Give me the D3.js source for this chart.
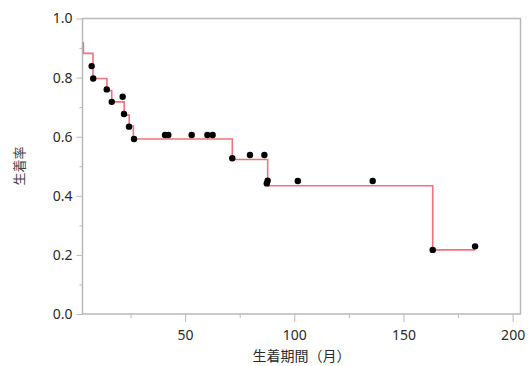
<!DOCTYPE html>
<html>
<head>
<meta charset="utf-8">
<script src="https://cdn.jsdelivr.net/npm/d3@7"></script>
<style>
  body { margin: 0; background: #fff; }
  svg { display: block; }
  .tick text { font-family: "Noto Sans", sans-serif; font-size: 14px; fill: #2a2a2a; }
  .axis path, .axis line { stroke: #b9b9b9; }
</style>
</head>
<body>
<svg id="km_svg" width="528" height="366"></svg>
<script>
// step curve (drop times and survival after drop)
const curveTimes = [0, 3.4, 7.8, 14.2, 16.4, 22.1, 24.4, 26.3, 71.6, 87.8, 163.4, 182.8];
const curveSurv  = [0.917, 0.882, 0.797, 0.756, 0.718, 0.673, 0.636, 0.592, 0.523, 0.434, 0.217, 0.217];

// plotted points
const pointTimes = [7.2, 7.9, 14.1, 16.4, 21.4, 22.0, 24.3, 26.6, 40.8, 42.3, 53.0, 60.2, 62.6,
                    71.6, 79.7, 86.3, 87.4, 87.8, 101.6, 135.9, 163.4, 182.8];
const pointSurv  = [0.839, 0.797, 0.760, 0.718, 0.735, 0.677, 0.634, 0.592, 0.606, 0.606, 0.606, 0.606, 0.606,
                    0.527, 0.538, 0.538, 0.442, 0.451, 0.450, 0.450, 0.217, 0.229];

const xMajor = [50, 100, 150, 200];
const xMinor = [25, 75, 125, 175];
const yMajor = [0, 0.2, 0.4, 0.6, 0.8, 1.0];
const yMinor = [0.1, 0.3, 0.5, 0.7, 0.9];

const svg = d3.select('#km_svg');
const plotL = 82.5, plotR = 520.5, plotT = 18.5, plotB = 314;

const xScale = d3.scaleLinear().domain([3, 203.6]).range([plotL, plotR]);
const yScale = d3.scaleLinear().domain([0, 1]).range([plotB, plotT]);

svg.append('clipPath').attr('id', 'plotclip')
    .append('rect')
    .attr('x', plotL).attr('y', plotT)
    .attr('width', plotR - plotL).attr('height', plotB - plotT);

// minor ticks
svg.append('g').attr('class', 'axis')
    .attr('transform', `translate(0,${plotB})`)
    .call(d3.axisBottom(xScale).tickValues(xMinor).tickSize(4).tickFormat(''))
    .call(g => g.select('.domain').remove());
svg.append('g').attr('class', 'axis')
    .attr('transform', `translate(${plotL},0)`)
    .call(d3.axisLeft(yScale).tickValues(yMinor).tickSize(3).tickFormat(''))
    .call(g => g.select('.domain').remove());

// major ticks
svg.append('g').attr('class', 'axis')
    .attr('transform', `translate(0,${plotB})`)
    .call(d3.axisBottom(xScale).tickValues(xMajor).tickSize(8).tickPadding(8).tickFormat(d3.format('d')))
    .call(g => g.select('.domain').remove());
svg.append('g').attr('class', 'axis')
    .attr('transform', `translate(${plotL},0)`)
    .call(d3.axisLeft(yScale).tickValues(yMajor).tickSize(6).tickPadding(4).tickFormat(d3.format('.1f')))
    .call(g => g.select('.domain').remove());

// frame
svg.append('rect')
    .attr('x', plotL).attr('y', plotT)
    .attr('width', plotR - plotL).attr('height', plotB - plotT)
    .attr('fill', 'none')
    .attr('stroke', '#b9b9b9')
    .attr('stroke-width', 1.5);

const curveData = curveTimes.map((t, i) => ({ t: t, s: curveSurv[i] }));
const line = d3.line()
    .x(d => xScale(d.t))
    .y(d => yScale(d.s))
    .curve(d3.curveStepAfter);

svg.append('path')
    .datum(curveData)
    .attr('clip-path', 'url(#plotclip)')
    .attr('d', line)
    .attr('fill', 'none')
    .attr('stroke', '#f2717f')
    .attr('stroke-width', 1.6);

svg.append('g')
    .selectAll('circle')
    .data(pointTimes.map((t, i) => ({ t: t, s: pointSurv[i] })))
    .enter()
    .append('circle')
    .attr('cx', d => xScale(d.t))
    .attr('cy', d => yScale(d.s))
    .attr('r', 3.2)
    .style('fill', '#000');

// axis titles
svg.append('text')
    .attr('x', (plotL + plotR) / 2)
    .attr('y', 361)
    .style('text-anchor', 'middle')
    .style('font-family', '"Noto Sans CJK JP", sans-serif')
    .style('font-size', '14px')
    .style('fill', '#2a2a2a')
    .text('生着期間（月）');

svg.append('text')
    .attr('transform', 'translate(24,166) rotate(-90)')
    .style('text-anchor', 'middle')
    .style('font-family', '"Noto Sans CJK JP", sans-serif')
    .style('font-size', '13px')
    .style('fill', '#444')
    .text('生着率');
</script>
</body>
</html>
